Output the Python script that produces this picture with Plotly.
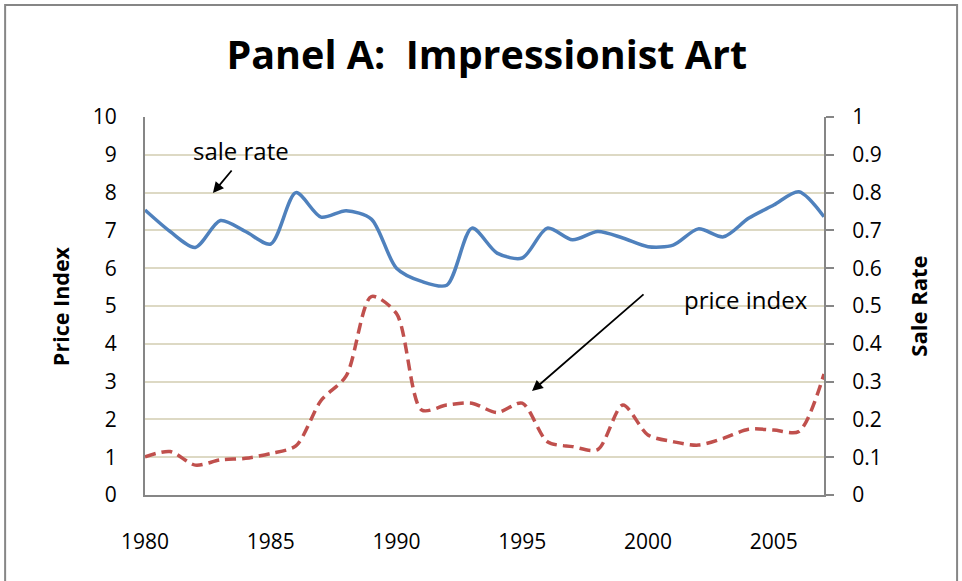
import plotly.graph_objects as go

years = list(range(1980, 2008))
sale_rate = [0.754, 0.697, 0.655, 0.726, 0.697, 0.664, 0.800, 0.735, 0.752, 0.730,
             0.600, 0.565, 0.555, 0.706, 0.640, 0.627, 0.706, 0.675, 0.697, 0.680,
             0.657, 0.661, 0.704, 0.683, 0.732, 0.767, 0.802, 0.736]
price_index = [1.01, 1.15, 0.79, 0.93, 0.97, 1.10, 1.30, 2.50, 3.15, 5.25,
               4.80, 2.25, 2.38, 2.43, 2.18, 2.43, 1.41, 1.28, 1.20, 2.38,
               1.59, 1.41, 1.32, 1.50, 1.74, 1.72, 1.68, 3.20]
left_ticks = list(range(0, 11))
right_ticks = [0, 0.1, 0.2, 0.3, 0.4, 0.5, 0.6, 0.7, 0.8, 0.9, 1]
right_labels = ["0", "0.1", "0.2", "0.3", "0.4", "0.5", "0.6", "0.7", "0.8", "0.9", "1"]
x_ticks = [1980, 1985, 1990, 1995, 2000, 2005]

FONT = "Open Sans"
TICK = 21
fig = go.Figure()
fig.add_trace(go.Scatter(x=years, y=price_index, mode="lines", name="price index",
                         line=dict(color="#C0504D", width=3.5, dash="11px,6px", shape="spline", smoothing=0.8),
                         yaxis="y"))
fig.add_trace(go.Scatter(x=years, y=sale_rate, mode="lines", name="sale rate",
                         line=dict(color="#4F81BD", width=3.5, shape="spline", smoothing=0.8),
                         yaxis="y2"))

fig.update_layout(
    width=962, height=581,
    margin=dict(l=145, r=138, t=117, b=86),
    paper_bgcolor="white", plot_bgcolor="white",
    showlegend=False,
    font=dict(family=FONT, size=TICK, color="black"),
    title=dict(text="<b>Panel A:  Impressionist Art</b>", x=0.506, xanchor="center",
               y=0.905, yanchor="middle", font=dict(family=FONT, size=39.5, color="black")),
    xaxis=dict(range=[1980, 2007], tickvals=x_ticks, showgrid=False, automargin=False,
               showline=True, linecolor="#868686", linewidth=2, ticks="",
               ticklabelstandoff=27, tickfont=dict(size=TICK), zeroline=False),
    yaxis=dict(range=[0, 10], tickvals=left_ticks, showgrid=True, gridcolor="#DDD9C4",
               gridwidth=2, showline=True, linecolor="#868686", linewidth=2, ticks="",
               automargin=False, ticklabelstandoff=22, zeroline=False, tickfont=dict(size=TICK)),
    yaxis2=dict(range=[0, 1], tickvals=right_ticks, ticktext=right_labels, overlaying="y",
                side="right", showgrid=False, showline=True, linecolor="#868686", linewidth=2,
                ticks="outside", ticklen=8, tickwidth=2, tickcolor="#868686", zeroline=False,
                automargin=False, ticklabelstandoff=14, tickfont=dict(size=TICK)),
    shapes=[dict(type="rect", xref="paper", yref="paper", x0=-0.206, x1=1.196, y0=-0.3, y1=1.296,
                 line=dict(color="#868686", width=2), fillcolor="rgba(0,0,0,0)", layer="below")],
)

fig.add_annotation(xref="paper", yref="paper", x=-0.125, y=0.5, text="<b>Price Index</b>",
                   textangle=-90, showarrow=False, xanchor="center", yanchor="middle",
                   font=dict(size=21.5))
fig.add_annotation(xref="paper", yref="paper", x=1.138, y=0.5, text="<b>Sale Rate</b>",
                   textangle=-90, showarrow=False, xanchor="center", yanchor="middle",
                   font=dict(size=22))

fig.add_annotation(x=1982.7, y=0.799, yref="y2", ax=20, ay=-24, text="", showarrow=True,
                   arrowhead=2, arrowsize=1.2, arrowwidth=1.8, arrowcolor="black")
fig.add_annotation(x=1983.8, y=0.912, yref="y2", text="sale rate", showarrow=False,
                   xanchor="center", font=dict(size=24))
fig.add_annotation(x=1995.39, y=2.75, yref="y", ax=113, ay=-98, text="", showarrow=True,
                   arrowhead=2, arrowsize=1.2, arrowwidth=1.8, arrowcolor="black")
fig.add_annotation(x=2003.9, y=5.16, yref="y", text="price index", showarrow=False,
                   xanchor="center", font=dict(size=24))

fig.write_html("out.html", config={"displayModeBar": False})

with open("out.html", "r", encoding="utf-8") as f:
    html = f.read()
html = html.replace("<body>", '<body style="margin:0;padding:0;">', 1)
with open("out.html", "w", encoding="utf-8") as f:
    f.write(html)
